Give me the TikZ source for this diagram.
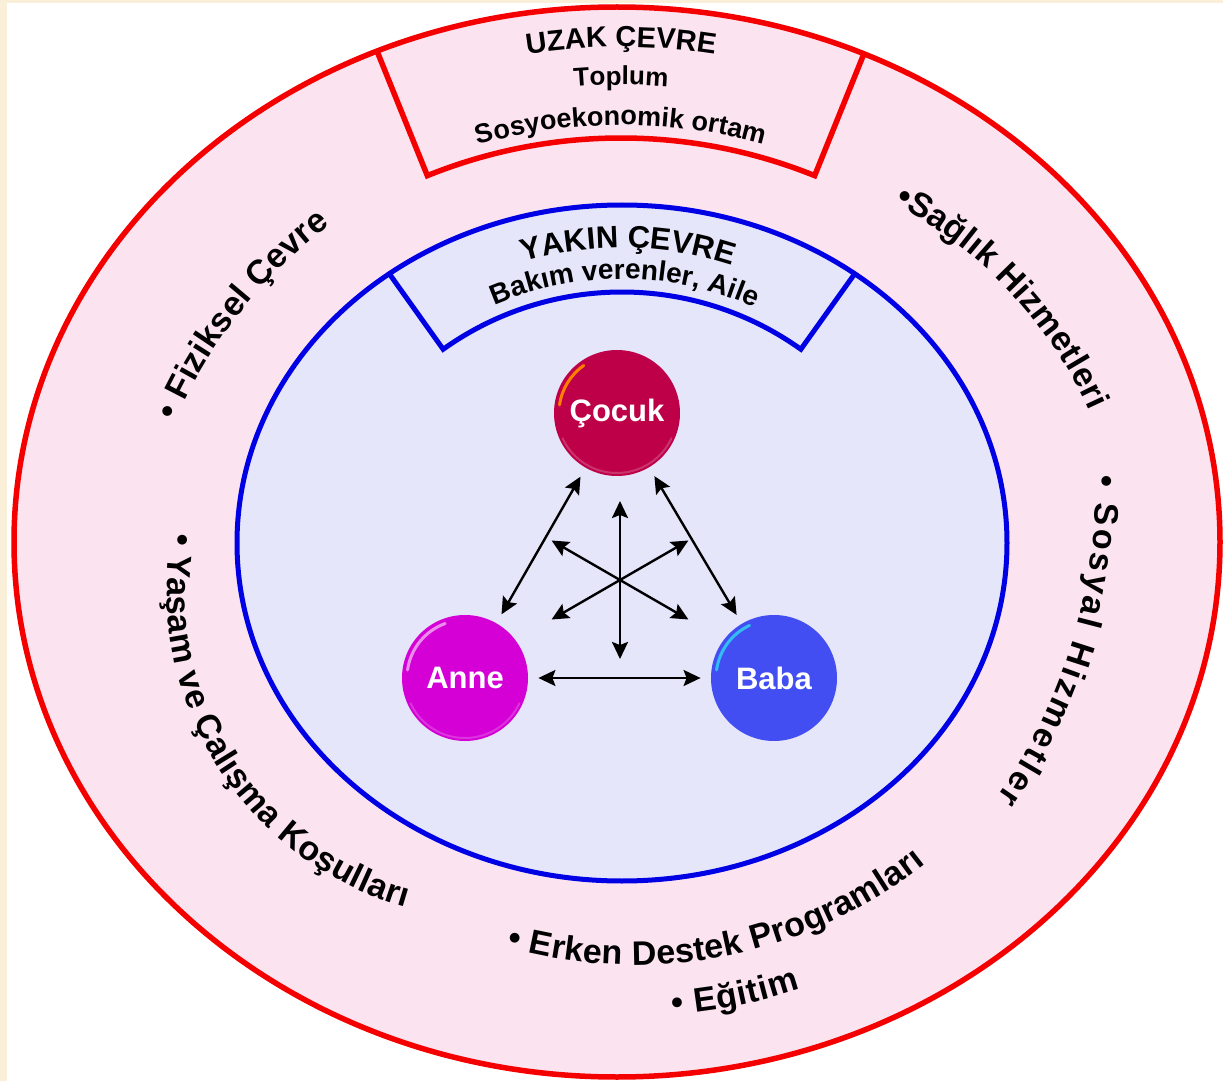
\documentclass[tikz,border=0pt]{standalone}
\usepackage{fontspec}
\setmainfont{Liberation Sans}
\usetikzlibrary{arrows.meta,decorations.text}

\definecolor{cream}{RGB}{250,240,218}
\definecolor{ringpink}{RGB}{251,228,240}
\definecolor{corelav}{RGB}{229,230,250}
\definecolor{ringred}{RGB}{245,0,0}
\definecolor{coreblue}{RGB}{0,0,228}
\definecolor{cocukred}{RGB}{190,0,72}
\definecolor{annepink}{RGB}{212,0,214}
\definecolor{babablue}{RGB}{66,78,242}

\newcommand{\ringfont}{\fontsize{17}{20}\selectfont\bfseries}
\newcommand{\headfont}[1]{\fontsize{#1}{#1}\selectfont\bfseries}

\tikzset{
  person/.style={circle, minimum size=63pt, inner sep=0pt, text=white,
    font=\fontsize{15.5}{18}\selectfont\bfseries},
  link/.style={{Stealth[length=8.5pt,width=8pt,inset=1.5pt]}-{Stealth[length=8.5pt,width=8pt,inset=1.5pt]}, line width=1.2pt},
  between/.style={shorten <=5pt, shorten >=5pt},
  redline/.style={draw=ringred, line width=2.75pt},
  blueline/.style={draw=coreblue, line width=2.5pt},
  fittext/.style={decorate, decoration={text along path, text align=fit to path, text={#1}}},
  midtext/.style={decorate, decoration={text along path, text align=center, text={#1}}},
  glint/.style={line width=1.5pt, line cap=round}
}

\begin{document}
\begin{tikzpicture}[x=0.5pt,y=-0.5pt]
\useasboundingbox (0,0) rectangle (1223,1081);
\fill[cream] (0,0) rectangle (1223,1081);
\fill[white] (7,3) rectangle (1223,1081);

\coordinate (uzak) at (617,542);
\coordinate (yakin) at (622,543);
\coordinate (uzakbox) at (621,655);
\coordinate (yakinbox) at (622,600);

% outer ring with its title box
\fill[ringpink] (uzak) ellipse[x radius=603, y radius=535];
\begin{scope}
\clip (uzak) ellipse[x radius=603, y radius=535];
\draw[redline] ([shift={(-112:700)}]uzakbox) -- ([shift={(-112:517)}]uzakbox)
  arc[start angle=-112, end angle=-68, radius=517] -- ([shift={(-68:700)}]uzakbox);
\end{scope}
\draw[redline] (uzak) ellipse[x radius=603, y radius=535];

% inner ring with its title box
\fill[corelav] (yakin) ellipse[x radius=385, y radius=338];
\begin{scope}
\clip (yakin) ellipse[x radius=385, y radius=338];
\draw[blueline] ([shift={(-125.5:450)}]yakinbox) -- ([shift={(-125.5:308)}]yakinbox)
  arc[start angle=-125.5, end angle=-54.5, radius=308] -- ([shift={(-54.5:450)}]yakinbox);
\end{scope}
\draw[blueline] (yakin) ellipse[x radius=385, y radius=338];

\path[midtext={|\headfont{14.5}|UZAK ÇEVRE}] ([shift={(-110:608)}]uzakbox) arc[start angle=-110, end angle=-70, radius=608];
\path[midtext={|\headfont{13}|Toplum}] ([shift={(-100:570)}]uzakbox) arc[start angle=-100, end angle=-80, radius=570];
\path[midtext={|\headfont{13.5}|Sosyoekonomik ortam}] ([shift={(-110:530)}]uzakbox) arc[start angle=-110, end angle=-70, radius=530];
\path[midtext={|\headfont{15.5}|YAKIN ÇEVRE}] ([shift={(-119:352)}]yakinbox) arc[start angle=-119, end angle=-59, radius=352];
\path[midtext={|\headfont{14}|Bakım verenler, Aile}] ([shift={(-119.5:321)}]yakinbox) arc[start angle=-119.5, end angle=-59.5, radius=321];

% bullet labels round the outer ring
\coordinate (fiz) at (628,619);
\coordinate (yas) at (496,591);
\coordinate (erk) at (634,494);
\coordinate (sag) at (690,591);
\coordinate (sos) at (550,484);
\path[fittext={|\ringfont|• Fiziksel Çevre}] ([shift={(-156.4:494)}]fiz) arc[start angle=-156.4, end angle=-127.1, radius=494];
\path[fittext={|\ringfont|• Yaşam ve Çalışma Koşulları}] ([shift={(190.3:329)}]yas) arc[start angle=190.3, end angle=106, radius=329];
\path[fittext={|\ringfont|• Erken Destek Programları}] ([shift={(105.7:471)}]erk) arc[start angle=105.7, end angle=51.8, radius=471];
\path[fittext={|\ringfont|• Eğitim}] ([shift={(85.8:522)}]erk) arc[start angle=85.8, end angle=71.4, radius=522];
\path[fittext={|\ringfont|•Sağlık Hizmetleri}] ([shift={(-62.2:438)}]sag) arc[start angle=-62.2, end angle=-24.3, radius=438];
\path[fittext={|\ringfont|• Sosyal Hizmetler}] ([shift={(-0.9:546)}]sos) arc[start angle=-0.9, end angle=35, radius=546];

% family
\node[person, fill=cocukred] (cocuk) at (617,413) {Çocuk};
\node[person, fill=annepink] (anne) at (465,678) {Anne};
\node[person, fill=babablue] (baba) at (774,678) {Baba};
\draw[glint, orange] ([shift={(-172:58)}]cocuk.center) arc[start angle=-172, end angle=-125, radius=58];
\draw[glint, line width=1pt, cocukred!80!white] ([shift={(25:60)}]cocuk.center) arc[start angle=25, end angle=155, radius=60];
\draw[glint, annepink!45!white] ([shift={(-172:58)}]anne.center) arc[start angle=-172, end angle=-110, radius=58];
\draw[glint, line width=1pt, annepink!80!white] ([shift={(25:60)}]anne.center) arc[start angle=25, end angle=155, radius=60];
\draw[glint, cyan!80!white] ([shift={(-172:58)}]baba.center) arc[start angle=-172, end angle=-115, radius=58];

\draw[link, between] (anne) -- (cocuk);
\draw[link, between] (cocuk) -- (baba);
\draw[link, between] (anne) -- (baba);
\coordinate (hub) at (620,580);
\foreach \a in {90,30,150}
  \draw[link] ([shift={(\a:79)}]hub) -- ([shift={(180+\a:79)}]hub);
\end{tikzpicture}
\end{document}
